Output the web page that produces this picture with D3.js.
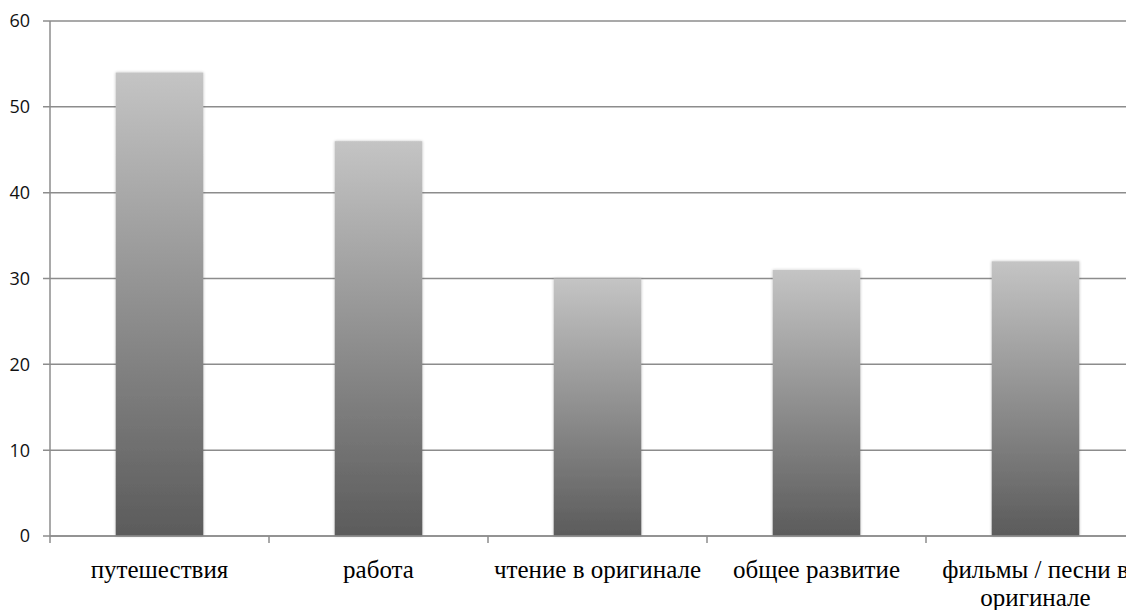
<!DOCTYPE html>
<html>
<head>
<meta charset="utf-8">
<script src="https://cdn.jsdelivr.net/npm/d3@7"></script>
<style>
  html, body { margin: 0; padding: 0; background: #fff; overflow: hidden; }
</style>
</head>
<body>
<svg id="chart" width="1126" height="610"></svg>
<script>
'use strict';

var categories = ['путешествия', 'работа', 'чтение в оригинале', 'общее развитие', 'фильмы / песни в оригинале'];
var values = [54, 46, 30, 31, 32];
var yTicks = [0, 10, 20, 30, 40, 50, 60];

var svg = d3.select('#chart');
var plotLeft = 50, plotRight = 1145, plotTop = 21, plotBottom = 536;

var x = d3.scaleBand().domain(categories).range([plotLeft, plotRight]).paddingInner(0).paddingOuter(0);
var y = d3.scaleLinear().domain([0, 60]).range([plotBottom, plotTop]);

var defs = svg.append('defs');
var grad = defs.append('linearGradient')
  .attr('id', 'barGrad')
  .attr('x1', 0).attr('y1', 0).attr('x2', 0).attr('y2', 1);
grad.append('stop').attr('offset', '0%').attr('stop-color', '#c4c4c4');
grad.append('stop').attr('offset', '100%').attr('stop-color', '#5b5b5b');

var shadow = defs.append('filter').attr('id', 'shadow')
  .attr('x', '-10%').attr('y', '-10%').attr('width', '120%').attr('height', '120%');
shadow.append('feGaussianBlur').attr('in', 'SourceAlpha').attr('stdDeviation', 1.5).attr('result', 'b');
shadow.append('feComponentTransfer').attr('in', 'b').attr('result', 'b2')
  .append('feFuncA').attr('type', 'linear').attr('slope', 0.25);
var merge = shadow.append('feMerge');
merge.append('feMergeNode').attr('in', 'b2');
merge.append('feMergeNode').attr('in', 'SourceGraphic');

// gridlines
svg.append('g')
  .selectAll('line.grid')
  .data(yTicks)
  .enter()
  .append('line')
  .attr('class', 'grid')
  .attr('x1', plotLeft - 7)
  .attr('x2', 1126)
  .attr('y1', function(d) { return y(d); })
  .attr('y2', function(d) { return y(d); })
  .attr('stroke', '#8c8c8c')
  .attr('stroke-width', 1.5);

// y labels
svg.append('g')
  .selectAll('text')
  .data(yTicks)
  .enter()
  .append('text')
  .attr('x', 30)
  .attr('y', function(d) { return y(d); })
  .attr('dy', '0.36em')
  .attr('text-anchor', 'end')
  .style('font-family', "'Open Sans', 'DejaVu Sans', sans-serif")
  .style('font-size', '18px')
  .style('fill', '#111')
  .text(function(d) { return d; });

// bars
var bw = x.bandwidth() * 0.4;
svg.append('g')
  .selectAll('rect')
  .data(values)
  .enter()
  .append('rect')
  .attr('x', function(d, i) { return x(categories[i]) + (x.bandwidth() - bw) / 2; })
  .attr('y', function(d) { return y(d); })
  .attr('width', bw)
  .attr('height', function(d) { return plotBottom - y(d); })
  .attr('fill', 'url(#barGrad)')
  .attr('filter', 'url(#shadow)');

// axes lines
svg.append('line')
  .attr('x1', plotLeft).attr('x2', plotLeft)
  .attr('y1', plotTop).attr('y2', plotBottom + 7)
  .attr('stroke', '#8c8c8c').attr('stroke-width', 1.5);
svg.append('line')
  .attr('x1', plotLeft).attr('x2', 1126)
  .attr('y1', plotBottom).attr('y2', plotBottom)
  .attr('stroke', '#8c8c8c').attr('stroke-width', 1.5);

// category ticks
svg.append('g')
  .selectAll('line')
  .data(categories.slice(1))
  .enter()
  .append('line')
  .attr('x1', function(d) { return x(d); })
  .attr('x2', function(d) { return x(d); })
  .attr('y1', plotBottom)
  .attr('y2', plotBottom + 7)
  .attr('stroke', '#8c8c8c')
  .attr('stroke-width', 1.5);

// category labels, wrap the long one
var lines = categories.map(function(c) {
  return c === 'фильмы / песни в оригинале' ? ['фильмы / песни в', 'оригинале'] : [c];
});
svg.append('g')
  .selectAll('text')
  .data(categories)
  .enter()
  .append('text')
  .attr('text-anchor', 'middle')
  .style('font-family', "'Liberation Serif', 'Times New Roman', serif")
  .style('font-size', '25px')
  .style('fill', '#000')
  .each(function(d, i) {
    var t = d3.select(this);
    lines[i].forEach(function(l, j) {
      t.append('tspan')
        .attr('x', x(d) + x.bandwidth() / 2)
        .attr('y', 578 + j * 28)
        .text(l);
    });
  });
</script>
</body>
</html>
